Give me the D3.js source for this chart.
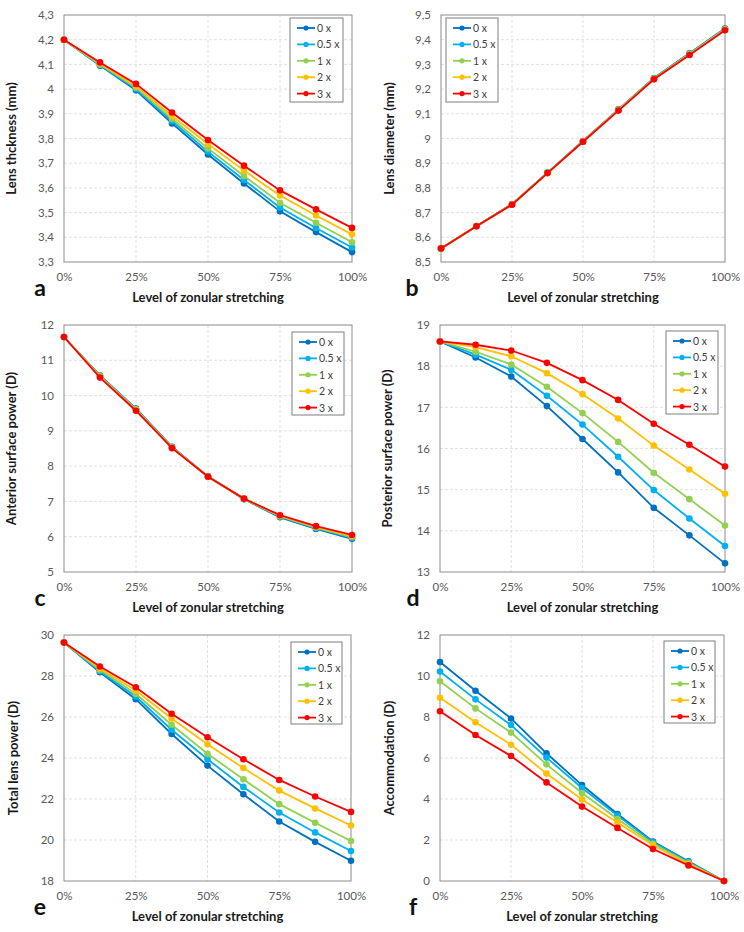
<!DOCTYPE html>
<html><head><meta charset="utf-8">
<script src="https://cdn.jsdelivr.net/npm/d3@7"></script>
<style>
html,body{margin:0;padding:0;background:#fff;}
svg{display:block;font-family:Lato, "Open Sans", sans-serif;}
</style></head>
<body><svg id="chart" width="744" height="932"></svg>
<script>
const xLevels = [0, 12.5, 25, 37.5, 50, 62.5, 75, 87.5, 100];
const xTickValues = [0, 25, 50, 75, 100];
const seriesNames = ["0 x", "0.5 x", "1 x", "2 x", "3 x"];
const seriesColors = ["#0070C0", "#00B0F0", "#92D050", "#FFC000", "#FF0000"];

const lensThickness = [
  [4.20, 4.095, 3.995, 3.861, 3.735, 3.618, 3.505, 3.421, 3.340],
  [4.20, 4.098, 4.000, 3.871, 3.747, 3.632, 3.521, 3.438, 3.359],
  [4.20, 4.100, 4.006, 3.880, 3.760, 3.648, 3.540, 3.459, 3.380],
  [4.20, 4.104, 4.013, 3.891, 3.778, 3.670, 3.569, 3.488, 3.412],
  [4.20, 4.108, 4.021, 3.905, 3.794, 3.690, 3.590, 3.513, 3.438]
];
const lensDiameter = [
  [8.555, 8.646, 8.734, 8.862, 8.990, 9.118, 9.245, 9.345, 9.445],
  [8.555, 8.646, 8.734, 8.862, 8.989, 9.117, 9.244, 9.344, 9.444],
  [8.555, 8.645, 8.733, 8.861, 8.988, 9.116, 9.243, 9.342, 9.442],
  [8.555, 8.645, 8.733, 8.860, 8.988, 9.115, 9.241, 9.340, 9.440],
  [8.555, 8.645, 8.732, 8.860, 8.987, 9.113, 9.240, 9.338, 9.438]
];
const anteriorPower = [
  [11.66, 10.57, 9.63, 8.55, 7.71, 7.06, 6.55, 6.22, 5.94],
  [11.66, 10.56, 9.62, 8.54, 7.71, 7.07, 6.57, 6.24, 5.97],
  [11.66, 10.55, 9.61, 8.53, 7.70, 7.07, 6.58, 6.26, 5.99],
  [11.66, 10.53, 9.59, 8.52, 7.70, 7.08, 6.59, 6.28, 6.02],
  [11.66, 10.51, 9.57, 8.51, 7.70, 7.08, 6.61, 6.30, 6.05]
];
const posteriorPower = [
  [18.60, 18.21, 17.75, 17.03, 16.23, 15.42, 14.56, 13.89, 13.21],
  [18.60, 18.28, 17.91, 17.28, 16.58, 15.80, 14.99, 14.30, 13.63],
  [18.60, 18.35, 18.04, 17.50, 16.86, 16.16, 15.41, 14.77, 14.13],
  [18.60, 18.46, 18.24, 17.83, 17.32, 16.73, 16.07, 15.49, 14.90],
  [18.60, 18.52, 18.38, 18.08, 17.66, 17.18, 16.60, 16.09, 15.56]
];
const totalPower = [
  [29.63, 28.18, 26.87, 25.17, 23.63, 22.23, 20.90, 19.91, 18.99],
  [29.63, 28.23, 27.00, 25.38, 23.94, 22.59, 21.34, 20.37, 19.46],
  [29.63, 28.30, 27.13, 25.62, 24.21, 22.96, 21.75, 20.84, 19.95],
  [29.63, 28.36, 27.29, 25.93, 24.67, 23.51, 22.41, 21.54, 20.71],
  [29.63, 28.46, 27.45, 26.16, 25.01, 23.94, 22.93, 22.12, 21.37]
];
const accommodation = [
  [10.68, 9.28, 7.93, 6.23, 4.68, 3.27, 1.93, 0.96, 0],
  [10.22, 8.86, 7.61, 6.02, 4.54, 3.19, 1.89, 0.93, 0],
  [9.74, 8.42, 7.24, 5.69, 4.29, 3.02, 1.82, 0.89, 0],
  [8.94, 7.74, 6.65, 5.24, 3.98, 2.85, 1.74, 0.83, 0],
  [8.28, 7.12, 6.10, 4.81, 3.63, 2.59, 1.56, 0.76, 0]
];

const thicknessTicks = [3.3, 3.4, 3.5, 3.6, 3.7, 3.8, 3.9, 4.0, 4.1, 4.2, 4.3];
const diameterTicks = [8.5, 8.6, 8.7, 8.8, 8.9, 9.0, 9.1, 9.2, 9.3, 9.4, 9.5];
const anteriorTicks = [5, 6, 7, 8, 9, 10, 11, 12];
const posteriorTicks = [13, 14, 15, 16, 17, 18, 19];
const totalTicks = [18, 20, 22, 24, 26, 28, 30];
const accomTicks = [0, 2, 4, 6, 8, 10, 12];

const xTitle = "Level of zonular stretching";

const panels = [
  {letter: "a", data: lensThickness, ticks: thicknessTicks, title: "Lens thckness (mm)",
   box: [64, 15, 352, 262], legend: [290, 18, 53, 84], titleX: 11, letterX: 40},
  {letter: "b", data: lensDiameter, ticks: diameterTicks, title: "Lens diameter (mm)",
   box: [441, 15, 725, 262], legend: [446, 18, 52, 84], titleX: 389, letterX: 412},
  {letter: "c", data: anteriorPower, ticks: anteriorTicks, title: "Anterior surface power (D)",
   box: [64, 325, 352, 572], legend: [292, 332, 52, 83], titleX: 11, letterX: 40},
  {letter: "d", data: posteriorPower, ticks: posteriorTicks, title: "Posterior surface power (D)",
   box: [440, 325, 725, 572], legend: [666, 331, 52, 83], titleX: 387, letterX: 413},
  {letter: "e", data: totalPower, ticks: totalTicks, title: "Total lens power (D)",
   box: [64, 635, 351, 881], legend: [291, 642, 51, 82], titleX: 13, letterX: 40},
  {letter: "f", data: accommodation, ticks: accomTicks, title: "Accommodation (D)",
   box: [440, 635, 724, 881], legend: [664, 641, 51, 82], titleX: 389, letterX: 413}
];

const svg = d3.select("#chart");
const fmt = v => (Math.round(v * 10) / 10).toString().replace(".", ",");

panels.forEach(p => {
  const [x0, y0, x1, y1] = p.box;
  const x = d3.scaleLinear().domain([0, 100]).range([x0, x1]);
  const y = d3.scaleLinear().domain(d3.extent(p.ticks)).range([y1, y0]);
  const g = svg.append("g");

  // grid
  g.append("g").selectAll("line").data(p.ticks.slice(1, -1)).join("line")
    .attr("x1", x0).attr("x2", x1).attr("y1", d => y(d)).attr("y2", d => y(d))
    .attr("stroke", "#d9d9d9").attr("stroke-width", 0.8).attr("stroke-dasharray", "3,2");
  g.append("g").selectAll("line").data(xTickValues.slice(1, -1)).join("line")
    .attr("y1", y0).attr("y2", y1).attr("x1", d => x(d)).attr("x2", d => x(d))
    .attr("stroke", "#d9d9d9").attr("stroke-width", 0.8).attr("stroke-dasharray", "3,2");

  // border
  g.append("rect").attr("x", x0).attr("y", y0).attr("width", x1 - x0).attr("height", y1 - y0)
    .attr("fill", "none").attr("stroke", "#8c8c8c").attr("stroke-width", 1);

  // y axis labels
  const yAxis = d3.axisLeft(y).tickValues(p.ticks).tickFormat(fmt).tickSize(0).tickPadding(10);
  const ya = g.append("g").attr("transform", `translate(${x0},0)`).call(yAxis);
  ya.select(".domain").remove();
  ya.selectAll("text").attr("fill", "#595959").attr("font-size", 11.5).attr("font-family", "Lato, sans-serif");

  // x axis labels
  const xAxis = d3.axisBottom(x).tickValues(xTickValues).tickFormat(d => d + "%").tickSize(0).tickPadding(11);
  const xa = g.append("g").attr("transform", `translate(0,${y1})`).call(xAxis);
  xa.select(".domain").remove();
  xa.selectAll("text").attr("fill", "#595959").attr("font-size", 11.5).attr("font-family", "Lato, sans-serif");

  // titles
  g.append("text").attr("x", (x0 + x1) / 2).attr("y", y1 + 40)
    .attr("text-anchor", "middle").attr("font-weight", "bold").attr("font-size", 13)
    .attr("fill", "#1a1a1a").text(xTitle);
  g.append("text").attr("transform", `translate(${p.titleX},${(y0 + y1) / 2}) rotate(-90)`)
    .attr("text-anchor", "middle").attr("dominant-baseline", "central")
    .attr("font-weight", "bold").attr("font-size", 13).attr("fill", "#1a1a1a").text(p.title);
  g.append("text").attr("x", p.letterX).attr("y", y1 + 34)
    .attr("text-anchor", "middle").attr("font-weight", "bold").attr("font-size", 23)
    .attr("fill", "#111").text(p.letter);

  // series
  const line = d3.line().x((d, i) => x(xLevels[i])).y(d => y(d));
  p.data.forEach((vals, si) => {
    g.append("path").datum(vals).attr("d", line).attr("fill", "none")
      .attr("stroke", seriesColors[si]).attr("stroke-width", 1.8);
    g.append("g").selectAll("circle").data(vals).join("circle")
      .attr("cx", (d, i) => x(xLevels[i])).attr("cy", d => y(d)).attr("r", 3.3)
      .attr("fill", seriesColors[si]);
  });

  // legend
  const [lx, ly, lw, lh] = p.legend;
  const lg = g.append("g");
  lg.append("rect").attr("x", lx).attr("y", ly).attr("width", lw).attr("height", lh)
    .attr("fill", "#fff").attr("stroke", "#7f7f7f").attr("stroke-width", 1);
  seriesNames.forEach((name, si) => {
    const cy = ly + 10 + si * 16.4;
    lg.append("line").attr("x1", lx + 7).attr("x2", lx + 25).attr("y1", cy).attr("y2", cy)
      .attr("stroke", seriesColors[si]).attr("stroke-width", 1.8);
    lg.append("circle").attr("cx", lx + 16).attr("cy", cy).attr("r", 2.6).attr("fill", seriesColors[si]);
    lg.append("text").attr("x", lx + 27).attr("y", cy).attr("dominant-baseline", "central")
      .attr("font-size", 10.5).attr("fill", "#404040").text(name);
  });
});
</script></body></html>
